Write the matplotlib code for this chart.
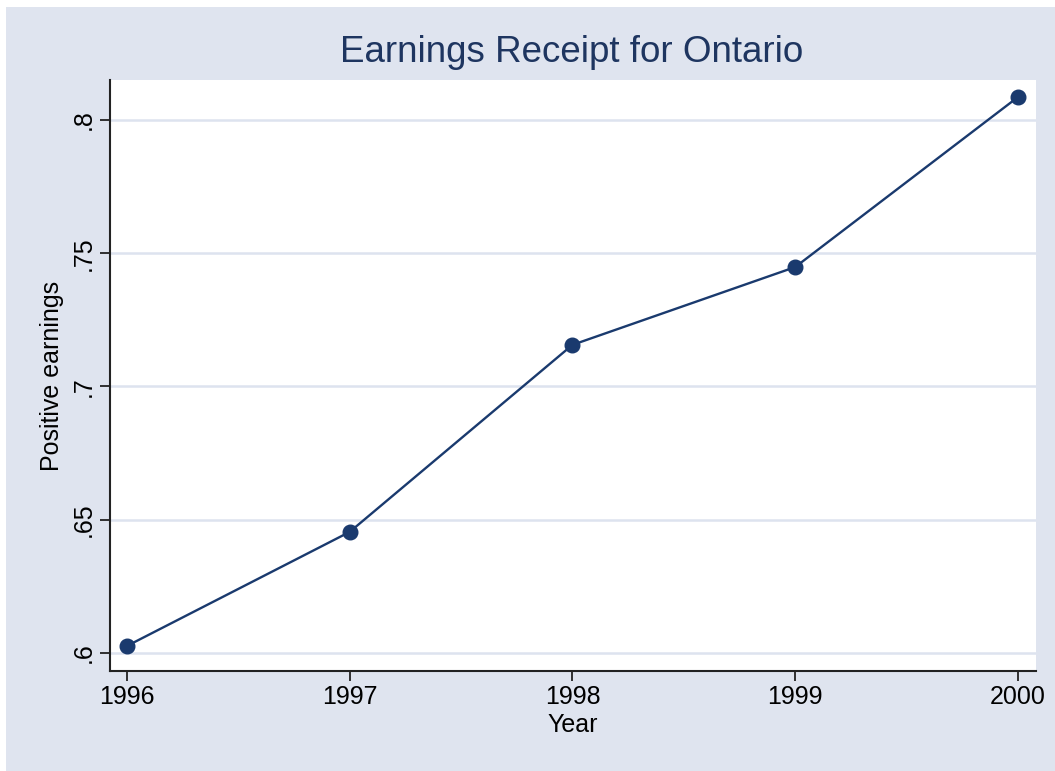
import matplotlib
matplotlib.use("Agg")
import matplotlib.pyplot as plt
from matplotlib.patches import Rectangle

years = [1996, 1997, 1998, 1999, 2000]
earnings = [0.6026, 0.6454, 0.7156, 0.7448, 0.8086]
yticks = [0.6, 0.65, 0.7, 0.75, 0.8]
ytick_labels = [".6", ".65", ".7", ".75", ".8"]

navy = "#1a3a6e"
bg = "#dfe4ef"

plt.rcParams["font.family"] = ["Liberation Sans", "DejaVu Sans"]

fig = plt.figure(figsize=(10.55, 7.71), dpi=100, facecolor="white")
# graph region with small white strip on left/top
fig.patches.append(Rectangle((6 / 1055, 0), 1 - 6 / 1055, 1 - 7 / 771,
                             transform=fig.transFigure, facecolor=bg,
                             edgecolor="none", zorder=-5))

ax = fig.add_axes([110 / 1055, 1 - 671 / 771, 926 / 1055, 591 / 771])
ax.set_zorder(2)
ax.set_facecolor("white")

ax.plot(years, earnings, color=navy, linewidth=1.7, marker="o",
        markersize=10.5, markerfacecolor=navy, markeredgecolor=navy, zorder=3)

ax.set_xlim(1995.924, 2000.081)
ax.set_ylim(0.5932, 0.815)
ax.set_xticks(years)
ax.set_xticklabels([str(y) for y in years], fontsize=18)
ax.set_yticks(yticks)
ax.set_yticklabels(ytick_labels, fontsize=18, rotation=90, va="center")

ax.grid(axis="y", color="#dde3ef", linewidth=1.8, zorder=1)
ax.set_axisbelow(True)

for s in ["top", "right"]:
    ax.spines[s].set_visible(False)
for s in ["left", "bottom"]:
    ax.spines[s].set_linewidth(1.5)
    ax.spines[s].set_color("#222222")

ax.tick_params(axis="both", direction="out", length=7, width=1.3,
               color="#222222", labelcolor="black", pad=3)

ax.set_xlabel("Year", fontsize=18, labelpad=3)
ax.set_ylabel("Positive earnings", fontsize=18, labelpad=6)

fig.text(572 / 1055, 1 - 53 / 771, "Earnings Receipt for Ontario",
         fontsize=26.5, color="#1e3560", ha="center", va="center")

fig.savefig("out.png", dpi=100, facecolor="white")
